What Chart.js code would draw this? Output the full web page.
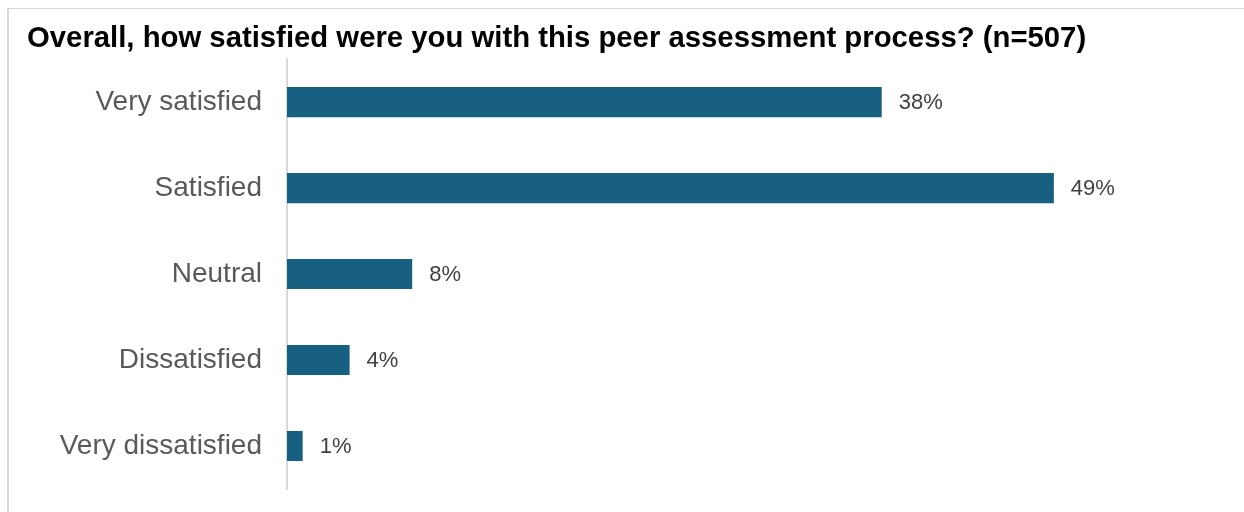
<!DOCTYPE html>
<html lang="en">
<head>
    <meta charset="UTF-8">
    <title>Peer Assessment Satisfaction</title>
    <script src="https://cdn.jsdelivr.net/npm/chart.js"></script>
    <style>
        body { margin: 0; background: #fff; }
        .frame {
            position: absolute; left: 7px; top: 8px; width: 1237px; height: 504px;
            border-top: 1px solid #d9d9d9; border-left: 2px solid #d9d9d9;
        }
        .chart-wrap { position: absolute; left: 0; top: 0; width: 1244px; height: 512px; }
    </style>
</head>
<body>
    <div class="frame"></div>
    <div class="chart-wrap">
        <canvas id="satisfactionChart" width="1244" height="512"></canvas>
    </div>

    <script>
        const categories = ['Very satisfied', 'Satisfied', 'Neutral', 'Dissatisfied', 'Very dissatisfied'];
        const percentages = [38, 49, 8, 4, 1];
        const titleText = 'Overall, how satisfied were you with this peer assessment process? (n=507)';

        // percentage text just past the end of each bar
        const valueLabels = {
            id: 'valueLabels',
            afterDatasetsDraw(chart) {
                const ctx = chart.ctx;
                const meta = chart.getDatasetMeta(0);
                ctx.save();
                ctx.font = '22px "Liberation Sans", Arial, sans-serif';
                ctx.fillStyle = '#404040';
                ctx.textAlign = 'left';
                ctx.textBaseline = 'middle';
                meta.data.forEach((bar, i) => {
                    ctx.fillText(percentages[i] + '%', bar.x + 17, bar.y + 1);
                });
                ctx.restore();
            }
        };

        new Chart(document.getElementById('satisfactionChart'), {
            type: 'bar',
            data: {
                labels: categories,
                datasets: [{
                    data: percentages,
                    backgroundColor: '#176082',
                    barPercentage: 0.7,
                    categoryPercentage: 0.5
                }]
            },
            options: {
                indexAxis: 'y',
                responsive: false,
                animation: false,
                layout: { padding: { left: 27, right: 18, top: 0, bottom: 23 } },
                scales: {
                    x: { display: false, min: 0, max: 60 },
                    y: {
                        afterFit(scale) {
                            scale.width = 260;
                            // the label padding shouldn't push the plot area in vertically
                            scale.paddingTop = 0;
                            scale.paddingBottom = 0;
                        },
                        grid: { display: false, drawTicks: false },
                        border: { display: true, color: '#d9d9d9', width: 2 },
                        ticks: {
                            padding: 25,
                            color: '#595959',
                            font: { family: '"Liberation Sans", Arial, sans-serif', size: 28 }
                        }
                    }
                },
                plugins: {
                    legend: { display: false },
                    tooltip: { enabled: false },
                    title: {
                        display: true,
                        text: titleText,
                        align: 'start',
                        color: '#000',
                        font: { family: '"Liberation Sans", Arial, sans-serif', size: 29.3, weight: 'bold' },
                        padding: { top: 21, bottom: 3 }
                    }
                }
            },
            plugins: [valueLabels]
        });
    </script>
</body>
</html>
